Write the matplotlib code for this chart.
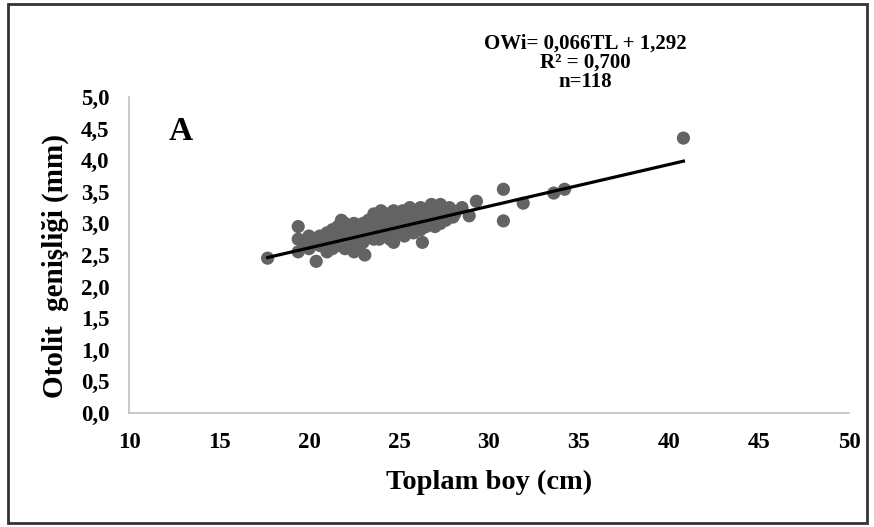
import numpy as np
import matplotlib.pyplot as plt
from matplotlib.patches import Rectangle
from matplotlib.ticker import FuncFormatter

plt.rcParams['font.family'] = ['Liberation Serif', 'DejaVu Serif']
plt.rcParams['font.weight'] = 'bold'

# Toplam boy (cm) ve otolit genişliği (mm)
tl = [17.7, 19.4, 19.4, 19.4, 19.8, 20.0, 20.0, 20.0, 20.4, 20.4,
      20.6, 20.6, 21.0, 21.0, 21.0, 21.3, 21.3, 21.3, 21.6, 21.6,
      21.6, 21.8, 21.8, 21.8, 22.0, 22.0, 22.0, 22.0, 22.3, 22.3,
      22.3, 22.5, 22.5, 22.5, 22.8, 22.8, 22.8, 23.0, 23.0, 23.0,
      23.1, 23.3, 23.3, 23.3, 23.6, 23.6, 23.6, 23.8, 23.8, 23.8,
      24.0, 24.0, 24.0, 24.3, 24.3, 24.3, 24.5, 24.5, 24.5, 24.7,
      24.7, 24.7, 25.0, 25.0, 25.0, 25.3, 25.3, 25.3, 25.6, 25.6,
      25.6, 25.9, 25.9, 25.9, 26.2, 26.2, 26.2, 26.3, 26.5, 26.5,
      26.5, 26.8, 26.8, 26.8, 27.0, 27.0, 27.0, 27.3, 27.3, 27.3,
      27.6, 27.6, 28.0, 28.0, 28.1, 28.5, 28.9, 29.3, 30.8, 30.8,
      31.9, 33.6, 34.2, 40.8, 22.7, 23.5, 24.2, 24.9, 25.5, 25.8,
      26.0, 26.6, 27.2, 27.8, 21.5, 22.2, 23.9, 25.2]
ow = [2.45, 2.95, 2.75, 2.55, 2.65, 2.70, 2.80, 2.60, 2.40, 2.75,
      2.80, 2.65, 2.55, 2.70, 2.85, 2.60, 2.75, 2.90, 2.80, 2.65,
      2.95, 2.70, 3.05, 2.85, 2.75, 2.90, 2.60, 3.00, 2.85, 2.70,
      2.95, 2.55, 2.80, 3.00, 2.90, 2.75, 2.65, 2.85, 3.00, 2.70,
      2.50, 2.95, 2.80, 3.05, 3.15, 2.90, 2.75, 3.00, 2.85, 3.10,
      2.95, 3.20, 2.80, 3.05, 2.90, 3.15, 2.95, 2.75, 3.10, 2.70,
      3.20, 3.00, 2.85, 3.05, 3.15, 2.95, 3.10, 2.80, 3.00, 3.25,
      2.90, 3.15, 2.95, 3.05, 3.25, 3.00, 2.90, 2.70, 3.10, 3.20,
      2.95, 3.30, 3.05, 3.15, 3.25, 2.95, 3.10, 3.00, 3.20, 3.30,
      3.15, 3.05, 3.20, 3.10, 3.15, 3.25, 3.12, 3.35, 3.54, 3.04,
      3.32, 3.48, 3.54, 4.35, 2.95, 2.85, 3.00, 2.90, 3.05, 2.85,
      3.10, 3.00, 3.15, 3.25, 2.70, 2.80, 2.75, 3.20]

slope = 0.066
intercept = 1.292
eq_lines = ["OWi= 0,066TL + 1,292", "R² = 0,700", "n=118"]

fig = plt.figure(figsize=(8.74, 5.27), dpi=100)
ax = fig.add_axes([129/874, 114/527, 720/874, 316/527])

ax.scatter(tl, ow, s=90, color='#636363', edgecolors='none', zorder=2)
xl = np.array([min(tl), max(tl)])
ax.plot(xl, slope*xl + intercept, color='black', lw=2.3, zorder=3)

ax.set_xlim(10, 50)
ax.set_ylim(0, 5)
ax.set_xticks(range(10, 51, 5))
ax.set_yticks(np.arange(0, 5.01, 0.5))
ax.yaxis.set_major_formatter(FuncFormatter(lambda v, p: f"{v:.1f}".replace('.', ',')))
ax.tick_params(axis='y', length=0, labelsize=16.5, pad=14)
ax.tick_params(axis='x', length=0, labelsize=16.5, pad=14)
for lab in ax.get_xticklabels() + ax.get_yticklabels():
    lab.set_fontweight('bold')
for s in ['top', 'right']:
    ax.spines[s].set_visible(False)
for s in ['left', 'bottom']:
    ax.spines[s].set_color('#bfbfbf')
    ax.spines[s].set_linewidth(1.2)

ax.set_xlabel("Toplam boy (cm)", fontsize=20.5, fontweight='bold')
ax.set_ylabel("Otolit  genişliği (mm)", fontsize=21, fontweight='bold')
ax.xaxis.set_label_coords(0.5, -0.18)
ax.yaxis.set_label_coords(-0.083, 0.465)

ax.text(0.072, 0.89, "A", transform=ax.transAxes, fontsize=24, fontweight='bold',
        ha='center', va='center')
for txt, ypx in zip(eq_lines, [44, 63, 82]):
    fig.text(585/874, 1 - ypx/527, txt, ha='center', va='center',
             fontsize=15, fontweight='bold')

fig.add_artist(Rectangle((8/874, 4/527), 859/874, 519/527, transform=fig.transFigure,
                         fill=False, edgecolor='#333333', lw=2))

plt.savefig("out.png", dpi=100)
